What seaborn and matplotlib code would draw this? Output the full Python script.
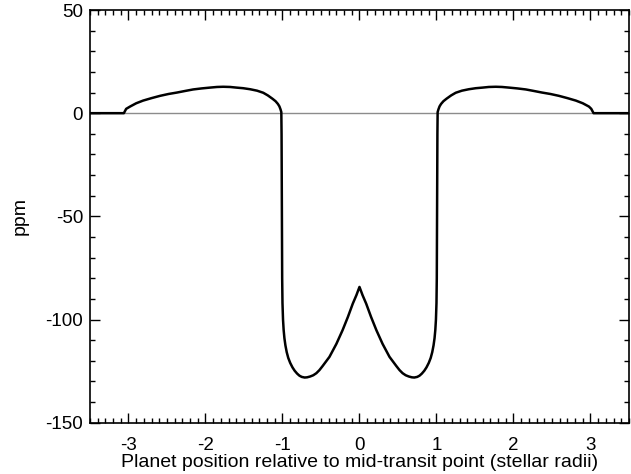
import matplotlib
matplotlib.use("Agg")
import matplotlib.pyplot as plt
from matplotlib.ticker import MultipleLocator
import seaborn as sns
import pandas as pd

# Planet position (stellar radii) and signal (ppm)
position = [-3.5, -3.3, -3.06, -3.03, -2.98, -2.90, -2.81, -2.70, -2.59, -2.48,
            -2.37, -2.26, -2.16, -2.05, -1.94, -1.85, -1.77, -1.68, -1.60, -1.51,
            -1.42, -1.33, -1.25, -1.19, -1.13, -1.09, -1.06, -1.04, -1.025, -1.015,
            -1.012, -1.008, -1.004, -1.0, -0.993, -0.985, -0.975, -0.962, -0.945, -0.925,
            -0.90, -0.87, -0.842, -0.81, -0.78, -0.75, -0.712, -0.68, -0.64, -0.60,
            -0.56, -0.52, -0.48, -0.39, -0.30, -0.22, -0.15, -0.087, -0.04, 0.0,
            0.04, 0.087, 0.15, 0.22, 0.30, 0.39, 0.48, 0.52, 0.56, 0.60,
            0.64, 0.68, 0.712, 0.75, 0.78, 0.81, 0.842, 0.87, 0.90, 0.925,
            0.945, 0.962, 0.975, 0.985, 0.993, 1.0, 1.004,
            1.008, 1.012, 1.015, 1.025, 1.04, 1.06, 1.09, 1.13, 1.19, 1.25,
            1.33, 1.42, 1.51, 1.60, 1.68, 1.77, 1.85, 1.94, 2.05, 2.16,
            2.26, 2.37, 2.48, 2.59, 2.70, 2.81, 2.90, 2.98, 3.01, 3.04,
            3.3, 3.5]
signal = [0.0, 0.0, 0.0, 2.1, 3.2, 4.8, 6.1, 7.3, 8.4, 9.3,
          10.0, 10.8, 11.5, 12.0, 12.4, 12.7, 12.8, 12.7, 12.4, 12.1,
          11.6, 10.9, 9.9, 8.6, 7.0, 5.8, 4.5, 3.3, 1.8, 0.5,
          -10.0, -45.0, -80.0, -92.0, -100.0, -105.0, -109.0, -112.5, -115.8, -118.6,
          -121.0, -123.2, -124.8, -126.2, -127.2, -127.8, -128.1, -128.0, -127.6, -127.0,
          -126.0, -124.5, -122.6, -118.1, -111.8, -105.2, -98.7, -92.3, -88.2, -84.2,
          -88.2, -92.3, -98.7, -105.2, -111.8, -118.1, -122.6, -124.5, -126.0, -127.0,
          -127.6, -128.0, -128.1, -127.8, -127.2, -126.2, -124.8, -123.2, -121.0, -118.6,
          -115.8, -112.5, -109.0, -105.0, -100.0, -92.0, -80.0,
          -45.0, -10.0, 0.5, 1.8, 3.3, 4.5, 5.8, 7.0, 8.6, 9.9,
          10.9, 11.6, 12.1, 12.4, 12.7, 12.8, 12.7, 12.4, 12.0, 11.5,
          10.8, 10.0, 9.3, 8.4, 7.3, 6.1, 4.8, 3.2, 2.1, 0.0,
          0.0, 0.0]

x_ticks = [-3, -2, -1, 0, 1, 2, 3]
y_ticks = [-150, -100, -50, 0, 50]
x_label = "Planet position relative to mid-transit point (stellar radii)"
y_label = "ppm"

sns.set_theme(style="ticks")
plt.rcParams["font.family"] = ["Liberation Sans", "DejaVu Sans"]

fig = plt.figure(figsize=(6.31, 4.74), dpi=100)
ax = fig.add_axes([0.1426, 0.1082, 0.8542, 0.8707])

df = pd.DataFrame({"position": position, "signal": signal})
ax.axhline(0, color="#8c8c8c", lw=1.0, zorder=1)
sns.lineplot(data=df, x="position", y="signal", sort=False, estimator=None,
             color="black", lw=1.8, ax=ax, zorder=2)

ax.set_xlim(-3.5, 3.5)
ax.set_ylim(-150, 50)
ax.set_xticks(x_ticks)
ax.set_xticklabels([str(t) for t in x_ticks])
ax.set_yticks(y_ticks)
ax.set_yticklabels([str(t) for t in y_ticks])
ax.xaxis.set_minor_locator(MultipleLocator(0.1))
ax.yaxis.set_minor_locator(MultipleLocator(10))
ax.tick_params(which="both", direction="in", top=True, right=True,
               color="black", width=1.0, labelsize=13.5, labelcolor="black")
ax.tick_params(which="major", length=7)
ax.tick_params(which="minor", length=3.5)
ax.tick_params(axis="x", which="major", pad=10.5)
ax.tick_params(axis="y", which="major", pad=5)
for s in ax.spines.values():
    s.set_color("black")
    s.set_linewidth(1.2)
ax.set_xlabel(x_label, fontsize=14, color="black", labelpad=0)
ax.set_ylabel(y_label, fontsize=14, color="black", labelpad=12)

fig.savefig("out.png", dpi=100)
